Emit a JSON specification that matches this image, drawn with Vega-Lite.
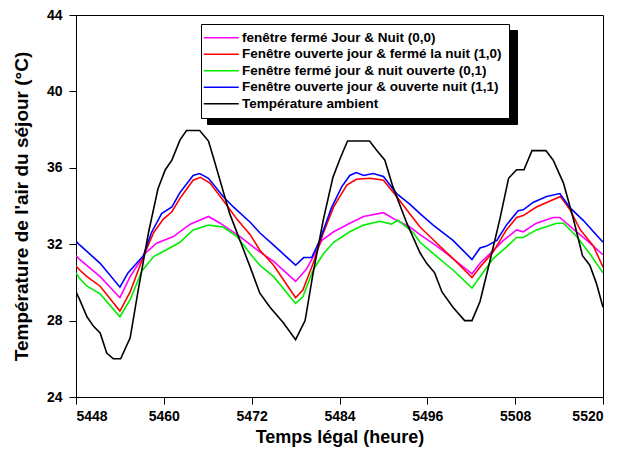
{
  "$schema": "https://vega.github.io/schema/vega-lite/v6.json",
  "width": 527,
  "height": 382,
  "autosize": {"type": "none"},
  "padding": {"left": 76, "top": 15, "right": 19, "bottom": 53},
  "background": "white",
  "config": {
    "view": {"stroke": "black", "strokeWidth": 1},
    "font": "Liberation Sans",
    "axis": {
      "grid": false,
      "domainColor": "black",
      "tickColor": "black",
      "labelColor": "black",
      "titleColor": "black",
      "labelFont": "Liberation Sans",
      "labelFontWeight": "bold",
      "labelFontSize": 14,
      "titleFont": "Liberation Sans",
      "titleFontWeight": "bold",
      "tickSize": 7,
      "tickWidth": 1,
      "domainWidth": 1
    }
  },
  "datasets": {
    "curves": [
      {"serie": "fenêtre fermé Jour & Nuit (0,0)", "t": 5448, "v": 31.4},
      {"serie": "fenêtre fermé Jour & Nuit (0,0)", "t": 5448.5, "v": 31.2},
      {"serie": "fenêtre fermé Jour & Nuit (0,0)", "t": 5451.3, "v": 30.3},
      {"serie": "fenêtre fermé Jour & Nuit (0,0)", "t": 5454.0, "v": 29.2},
      {"serie": "fenêtre fermé Jour & Nuit (0,0)", "t": 5455.4, "v": 30.3},
      {"serie": "fenêtre fermé Jour & Nuit (0,0)", "t": 5457.4, "v": 31.5},
      {"serie": "fenêtre fermé Jour & Nuit (0,0)", "t": 5459.0, "v": 32.05},
      {"serie": "fenêtre fermé Jour & Nuit (0,0)", "t": 5461.3, "v": 32.4},
      {"serie": "fenêtre fermé Jour & Nuit (0,0)", "t": 5463.6, "v": 33.05},
      {"serie": "fenêtre fermé Jour & Nuit (0,0)", "t": 5466.1, "v": 33.45},
      {"serie": "fenêtre fermé Jour & Nuit (0,0)", "t": 5467.7, "v": 33.1},
      {"serie": "fenêtre fermé Jour & Nuit (0,0)", "t": 5470.4, "v": 32.4},
      {"serie": "fenêtre fermé Jour & Nuit (0,0)", "t": 5473.1, "v": 31.6},
      {"serie": "fenêtre fermé Jour & Nuit (0,0)", "t": 5475.0, "v": 31.1},
      {"serie": "fenêtre fermé Jour & Nuit (0,0)", "t": 5478.0, "v": 30.05},
      {"serie": "fenêtre fermé Jour & Nuit (0,0)", "t": 5479.5, "v": 30.7},
      {"serie": "fenêtre fermé Jour & Nuit (0,0)", "t": 5481.6, "v": 32.2},
      {"serie": "fenêtre fermé Jour & Nuit (0,0)", "t": 5483.2, "v": 32.65},
      {"serie": "fenêtre fermé Jour & Nuit (0,0)", "t": 5485.4, "v": 33.1},
      {"serie": "fenêtre fermé Jour & Nuit (0,0)", "t": 5487.3, "v": 33.45},
      {"serie": "fenêtre fermé Jour & Nuit (0,0)", "t": 5490.0, "v": 33.65},
      {"serie": "fenêtre fermé Jour & Nuit (0,0)", "t": 5491.8, "v": 33.25},
      {"serie": "fenêtre fermé Jour & Nuit (0,0)", "t": 5493.6, "v": 32.9},
      {"serie": "fenêtre fermé Jour & Nuit (0,0)", "t": 5495.0, "v": 32.5},
      {"serie": "fenêtre fermé Jour & Nuit (0,0)", "t": 5497.3, "v": 31.9},
      {"serie": "fenêtre fermé Jour & Nuit (0,0)", "t": 5499.5, "v": 31.25},
      {"serie": "fenêtre fermé Jour & Nuit (0,0)", "t": 5502.1, "v": 30.45},
      {"serie": "fenêtre fermé Jour & Nuit (0,0)", "t": 5503.2, "v": 31.0},
      {"serie": "fenêtre fermé Jour & Nuit (0,0)", "t": 5504.8, "v": 31.6},
      {"serie": "fenêtre fermé Jour & Nuit (0,0)", "t": 5506.4, "v": 32.2},
      {"serie": "fenêtre fermé Jour & Nuit (0,0)", "t": 5508.2, "v": 32.75},
      {"serie": "fenêtre fermé Jour & Nuit (0,0)", "t": 5509.1, "v": 32.65},
      {"serie": "fenêtre fermé Jour & Nuit (0,0)", "t": 5510.9, "v": 33.1},
      {"serie": "fenêtre fermé Jour & Nuit (0,0)", "t": 5513.2, "v": 33.4},
      {"serie": "fenêtre fermé Jour & Nuit (0,0)", "t": 5514.1, "v": 33.4},
      {"serie": "fenêtre fermé Jour & Nuit (0,0)", "t": 5515.9, "v": 32.8},
      {"serie": "fenêtre fermé Jour & Nuit (0,0)", "t": 5517.8, "v": 32.2},
      {"serie": "fenêtre fermé Jour & Nuit (0,0)", "t": 5520, "v": 31.45},

      {"serie": "Fenêtre ouverte jour & fermé la nuit (1,0)", "t": 5448, "v": 30.85},
      {"serie": "Fenêtre ouverte jour & fermé la nuit (1,0)", "t": 5448.5, "v": 30.65},
      {"serie": "Fenêtre ouverte jour & fermé la nuit (1,0)", "t": 5449.5, "v": 30.3},
      {"serie": "Fenêtre ouverte jour & fermé la nuit (1,0)", "t": 5451.3, "v": 29.8},
      {"serie": "Fenêtre ouverte jour & fermé la nuit (1,0)", "t": 5454.0, "v": 28.5},
      {"serie": "Fenêtre ouverte jour & fermé la nuit (1,0)", "t": 5455.4, "v": 29.5},
      {"serie": "Fenêtre ouverte jour & fermé la nuit (1,0)", "t": 5457.2, "v": 31.35},
      {"serie": "Fenêtre ouverte jour & fermé la nuit (1,0)", "t": 5458.6, "v": 32.6},
      {"serie": "Fenêtre ouverte jour & fermé la nuit (1,0)", "t": 5459.9, "v": 33.3},
      {"serie": "Fenêtre ouverte jour & fermé la nuit (1,0)", "t": 5461.1, "v": 33.7},
      {"serie": "Fenêtre ouverte jour & fermé la nuit (1,0)", "t": 5462.2, "v": 34.4},
      {"serie": "Fenêtre ouverte jour & fermé la nuit (1,0)", "t": 5464.0, "v": 35.35},
      {"serie": "Fenêtre ouverte jour & fermé la nuit (1,0)", "t": 5465.0, "v": 35.5},
      {"serie": "Fenêtre ouverte jour & fermé la nuit (1,0)", "t": 5466.3, "v": 35.2},
      {"serie": "Fenêtre ouverte jour & fermé la nuit (1,0)", "t": 5468.1, "v": 34.3},
      {"serie": "Fenêtre ouverte jour & fermé la nuit (1,0)", "t": 5470.0, "v": 33.3},
      {"serie": "Fenêtre ouverte jour & fermé la nuit (1,0)", "t": 5471.8, "v": 32.5},
      {"serie": "Fenêtre ouverte jour & fermé la nuit (1,0)", "t": 5473.1, "v": 31.7},
      {"serie": "Fenêtre ouverte jour & fermé la nuit (1,0)", "t": 5475.0, "v": 30.9},
      {"serie": "Fenêtre ouverte jour & fermé la nuit (1,0)", "t": 5478.0, "v": 29.2},
      {"serie": "Fenêtre ouverte jour & fermé la nuit (1,0)", "t": 5479.0, "v": 29.6},
      {"serie": "Fenêtre ouverte jour & fermé la nuit (1,0)", "t": 5480.4, "v": 31.0},
      {"serie": "Fenêtre ouverte jour & fermé la nuit (1,0)", "t": 5481.8, "v": 32.6},
      {"serie": "Fenêtre ouverte jour & fermé la nuit (1,0)", "t": 5483.2, "v": 33.95},
      {"serie": "Fenêtre ouverte jour & fermé la nuit (1,0)", "t": 5485.0, "v": 35.1},
      {"serie": "Fenêtre ouverte jour & fermé la nuit (1,0)", "t": 5486.3, "v": 35.4},
      {"serie": "Fenêtre ouverte jour & fermé la nuit (1,0)", "t": 5488.2, "v": 35.45},
      {"serie": "Fenêtre ouverte jour & fermé la nuit (1,0)", "t": 5490.0, "v": 35.35},
      {"serie": "Fenêtre ouverte jour & fermé la nuit (1,0)", "t": 5491.8, "v": 34.5},
      {"serie": "Fenêtre ouverte jour & fermé la nuit (1,0)", "t": 5493.6, "v": 33.6},
      {"serie": "Fenêtre ouverte jour & fermé la nuit (1,0)", "t": 5495.0, "v": 32.9},
      {"serie": "Fenêtre ouverte jour & fermé la nuit (1,0)", "t": 5497.3, "v": 32.05},
      {"serie": "Fenêtre ouverte jour & fermé la nuit (1,0)", "t": 5499.5, "v": 31.25},
      {"serie": "Fenêtre ouverte jour & fermé la nuit (1,0)", "t": 5502.1, "v": 30.25},
      {"serie": "Fenêtre ouverte jour & fermé la nuit (1,0)", "t": 5503.2, "v": 30.8},
      {"serie": "Fenêtre ouverte jour & fermé la nuit (1,0)", "t": 5505.0, "v": 31.6},
      {"serie": "Fenêtre ouverte jour & fermé la nuit (1,0)", "t": 5506.8, "v": 32.75},
      {"serie": "Fenêtre ouverte jour & fermé la nuit (1,0)", "t": 5508.2, "v": 33.4},
      {"serie": "Fenêtre ouverte jour & fermé la nuit (1,0)", "t": 5509.1, "v": 33.5},
      {"serie": "Fenêtre ouverte jour & fermé la nuit (1,0)", "t": 5510.9, "v": 33.95},
      {"serie": "Fenêtre ouverte jour & fermé la nuit (1,0)", "t": 5513.0, "v": 34.3},
      {"serie": "Fenêtre ouverte jour & fermé la nuit (1,0)", "t": 5514.2, "v": 34.5},
      {"serie": "Fenêtre ouverte jour & fermé la nuit (1,0)", "t": 5515.5, "v": 33.8},
      {"serie": "Fenêtre ouverte jour & fermé la nuit (1,0)", "t": 5516.9, "v": 32.75},
      {"serie": "Fenêtre ouverte jour & fermé la nuit (1,0)", "t": 5518.7, "v": 31.9},
      {"serie": "Fenêtre ouverte jour & fermé la nuit (1,0)", "t": 5520, "v": 30.8},

      {"serie": "Fenêtre fermé jour & nuit ouverte (0,1)", "t": 5448, "v": 30.5},
      {"serie": "Fenêtre fermé jour & nuit ouverte (0,1)", "t": 5448.5, "v": 30.2},
      {"serie": "Fenêtre fermé jour & nuit ouverte (0,1)", "t": 5449.5, "v": 29.8},
      {"serie": "Fenêtre fermé jour & nuit ouverte (0,1)", "t": 5451.3, "v": 29.4},
      {"serie": "Fenêtre fermé jour & nuit ouverte (0,1)", "t": 5454.0, "v": 28.2},
      {"serie": "Fenêtre fermé jour & nuit ouverte (0,1)", "t": 5455.4, "v": 29.1},
      {"serie": "Fenêtre fermé jour & nuit ouverte (0,1)", "t": 5457.0, "v": 30.6},
      {"serie": "Fenêtre fermé jour & nuit ouverte (0,1)", "t": 5458.6, "v": 31.35},
      {"serie": "Fenêtre fermé jour & nuit ouverte (0,1)", "t": 5460.8, "v": 31.8},
      {"serie": "Fenêtre fermé jour & nuit ouverte (0,1)", "t": 5462.2, "v": 32.1},
      {"serie": "Fenêtre fermé jour & nuit ouverte (0,1)", "t": 5464.0, "v": 32.75},
      {"serie": "Fenêtre fermé jour & nuit ouverte (0,1)", "t": 5466.1, "v": 33.0},
      {"serie": "Fenêtre fermé jour & nuit ouverte (0,1)", "t": 5468.1, "v": 32.9},
      {"serie": "Fenêtre fermé jour & nuit ouverte (0,1)", "t": 5470.0, "v": 32.4},
      {"serie": "Fenêtre fermé jour & nuit ouverte (0,1)", "t": 5471.8, "v": 31.5},
      {"serie": "Fenêtre fermé jour & nuit ouverte (0,1)", "t": 5473.1, "v": 30.9},
      {"serie": "Fenêtre fermé jour & nuit ouverte (0,1)", "t": 5475.0, "v": 30.3},
      {"serie": "Fenêtre fermé jour & nuit ouverte (0,1)", "t": 5478.0, "v": 28.9},
      {"serie": "Fenêtre fermé jour & nuit ouverte (0,1)", "t": 5479.0, "v": 29.25},
      {"serie": "Fenêtre fermé jour & nuit ouverte (0,1)", "t": 5480.4, "v": 30.65},
      {"serie": "Fenêtre fermé jour & nuit ouverte (0,1)", "t": 5481.8, "v": 31.5},
      {"serie": "Fenêtre fermé jour & nuit ouverte (0,1)", "t": 5483.2, "v": 32.1},
      {"serie": "Fenêtre fermé jour & nuit ouverte (0,1)", "t": 5485.4, "v": 32.65},
      {"serie": "Fenêtre fermé jour & nuit ouverte (0,1)", "t": 5487.3, "v": 33.0},
      {"serie": "Fenêtre fermé jour & nuit ouverte (0,1)", "t": 5489.5, "v": 33.2},
      {"serie": "Fenêtre fermé jour & nuit ouverte (0,1)", "t": 5491.1, "v": 33.05},
      {"serie": "Fenêtre fermé jour & nuit ouverte (0,1)", "t": 5492.0, "v": 33.25},
      {"serie": "Fenêtre fermé jour & nuit ouverte (0,1)", "t": 5494.1, "v": 32.6},
      {"serie": "Fenêtre fermé jour & nuit ouverte (0,1)", "t": 5495.0, "v": 32.1},
      {"serie": "Fenêtre fermé jour & nuit ouverte (0,1)", "t": 5497.3, "v": 31.35},
      {"serie": "Fenêtre fermé jour & nuit ouverte (0,1)", "t": 5499.5, "v": 30.65},
      {"serie": "Fenêtre fermé jour & nuit ouverte (0,1)", "t": 5502.1, "v": 29.7},
      {"serie": "Fenêtre fermé jour & nuit ouverte (0,1)", "t": 5503.2, "v": 30.3},
      {"serie": "Fenêtre fermé jour & nuit ouverte (0,1)", "t": 5505.0, "v": 31.25},
      {"serie": "Fenêtre fermé jour & nuit ouverte (0,1)", "t": 5506.8, "v": 31.85},
      {"serie": "Fenêtre fermé jour & nuit ouverte (0,1)", "t": 5508.2, "v": 32.35},
      {"serie": "Fenêtre fermé jour & nuit ouverte (0,1)", "t": 5509.1, "v": 32.35},
      {"serie": "Fenêtre fermé jour & nuit ouverte (0,1)", "t": 5510.9, "v": 32.75},
      {"serie": "Fenêtre fermé jour & nuit ouverte (0,1)", "t": 5513.7, "v": 33.1},
      {"serie": "Fenêtre fermé jour & nuit ouverte (0,1)", "t": 5514.6, "v": 33.1},
      {"serie": "Fenêtre fermé jour & nuit ouverte (0,1)", "t": 5516.4, "v": 32.4},
      {"serie": "Fenêtre fermé jour & nuit ouverte (0,1)", "t": 5518.2, "v": 31.5},
      {"serie": "Fenêtre fermé jour & nuit ouverte (0,1)", "t": 5520, "v": 30.5},

      {"serie": "Fenêtre ouverte jour & ouverte nuit (1,1)", "t": 5448, "v": 32.15},
      {"serie": "Fenêtre ouverte jour & ouverte nuit (1,1)", "t": 5448.5, "v": 31.96},
      {"serie": "Fenêtre ouverte jour & ouverte nuit (1,1)", "t": 5451.3, "v": 31.0},
      {"serie": "Fenêtre ouverte jour & ouverte nuit (1,1)", "t": 5454.0, "v": 29.75},
      {"serie": "Fenêtre ouverte jour & ouverte nuit (1,1)", "t": 5455.1, "v": 30.5},
      {"serie": "Fenêtre ouverte jour & ouverte nuit (1,1)", "t": 5457.2, "v": 31.4},
      {"serie": "Fenêtre ouverte jour & ouverte nuit (1,1)", "t": 5458.3, "v": 32.6},
      {"serie": "Fenêtre ouverte jour & ouverte nuit (1,1)", "t": 5459.7, "v": 33.6},
      {"serie": "Fenêtre ouverte jour & ouverte nuit (1,1)", "t": 5461.1, "v": 33.95},
      {"serie": "Fenêtre ouverte jour & ouverte nuit (1,1)", "t": 5462.2, "v": 34.7},
      {"serie": "Fenêtre ouverte jour & ouverte nuit (1,1)", "t": 5464.0, "v": 35.6},
      {"serie": "Fenêtre ouverte jour & ouverte nuit (1,1)", "t": 5464.9, "v": 35.7},
      {"serie": "Fenêtre ouverte jour & ouverte nuit (1,1)", "t": 5466.1, "v": 35.45},
      {"serie": "Fenêtre ouverte jour & ouverte nuit (1,1)", "t": 5468.1, "v": 34.5},
      {"serie": "Fenêtre ouverte jour & ouverte nuit (1,1)", "t": 5469.5, "v": 33.95},
      {"serie": "Fenêtre ouverte jour & ouverte nuit (1,1)", "t": 5471.8, "v": 33.15},
      {"serie": "Fenêtre ouverte jour & ouverte nuit (1,1)", "t": 5473.1, "v": 32.6},
      {"serie": "Fenêtre ouverte jour & ouverte nuit (1,1)", "t": 5475.0, "v": 31.95},
      {"serie": "Fenêtre ouverte jour & ouverte nuit (1,1)", "t": 5478.0, "v": 30.9},
      {"serie": "Fenêtre ouverte jour & ouverte nuit (1,1)", "t": 5479.1, "v": 31.3},
      {"serie": "Fenêtre ouverte jour & ouverte nuit (1,1)", "t": 5480.2, "v": 31.3},
      {"serie": "Fenêtre ouverte jour & ouverte nuit (1,1)", "t": 5481.3, "v": 32.2},
      {"serie": "Fenêtre ouverte jour & ouverte nuit (1,1)", "t": 5482.9, "v": 33.9},
      {"serie": "Fenêtre ouverte jour & ouverte nuit (1,1)", "t": 5484.3, "v": 35.0},
      {"serie": "Fenêtre ouverte jour & ouverte nuit (1,1)", "t": 5485.4, "v": 35.6},
      {"serie": "Fenêtre ouverte jour & ouverte nuit (1,1)", "t": 5486.3, "v": 35.75},
      {"serie": "Fenêtre ouverte jour & ouverte nuit (1,1)", "t": 5487.3, "v": 35.6},
      {"serie": "Fenêtre ouverte jour & ouverte nuit (1,1)", "t": 5488.6, "v": 35.7},
      {"serie": "Fenêtre ouverte jour & ouverte nuit (1,1)", "t": 5490.0, "v": 35.55},
      {"serie": "Fenêtre ouverte jour & ouverte nuit (1,1)", "t": 5491.8, "v": 34.65},
      {"serie": "Fenêtre ouverte jour & ouverte nuit (1,1)", "t": 5493.6, "v": 34.1},
      {"serie": "Fenêtre ouverte jour & ouverte nuit (1,1)", "t": 5495.0, "v": 33.6},
      {"serie": "Fenêtre ouverte jour & ouverte nuit (1,1)", "t": 5496.8, "v": 33.0},
      {"serie": "Fenêtre ouverte jour & ouverte nuit (1,1)", "t": 5499.5, "v": 32.2},
      {"serie": "Fenêtre ouverte jour & ouverte nuit (1,1)", "t": 5502.1, "v": 31.2},
      {"serie": "Fenêtre ouverte jour & ouverte nuit (1,1)", "t": 5503.2, "v": 31.8},
      {"serie": "Fenêtre ouverte jour & ouverte nuit (1,1)", "t": 5504.1, "v": 31.9},
      {"serie": "Fenêtre ouverte jour & ouverte nuit (1,1)", "t": 5505.5, "v": 32.2},
      {"serie": "Fenêtre ouverte jour & ouverte nuit (1,1)", "t": 5506.8, "v": 33.0},
      {"serie": "Fenêtre ouverte jour & ouverte nuit (1,1)", "t": 5508.4, "v": 33.75},
      {"serie": "Fenêtre ouverte jour & ouverte nuit (1,1)", "t": 5509.1, "v": 33.8},
      {"serie": "Fenêtre ouverte jour & ouverte nuit (1,1)", "t": 5510.5, "v": 34.2},
      {"serie": "Fenêtre ouverte jour & ouverte nuit (1,1)", "t": 5512.3, "v": 34.5},
      {"serie": "Fenêtre ouverte jour & ouverte nuit (1,1)", "t": 5514.1, "v": 34.65},
      {"serie": "Fenêtre ouverte jour & ouverte nuit (1,1)", "t": 5515.5, "v": 33.9},
      {"serie": "Fenêtre ouverte jour & ouverte nuit (1,1)", "t": 5517.3, "v": 33.25},
      {"serie": "Fenêtre ouverte jour & ouverte nuit (1,1)", "t": 5518.7, "v": 32.65},
      {"serie": "Fenêtre ouverte jour & ouverte nuit (1,1)", "t": 5520, "v": 32.1},

      {"serie": "Température ambient", "t": 5448, "v": 29.5},
      {"serie": "Température ambient", "t": 5448.5, "v": 29.1},
      {"serie": "Température ambient", "t": 5449.5, "v": 28.2},
      {"serie": "Température ambient", "t": 5450.4, "v": 27.7},
      {"serie": "Température ambient", "t": 5451.3, "v": 27.35},
      {"serie": "Température ambient", "t": 5452.2, "v": 26.3},
      {"serie": "Température ambient", "t": 5453.1, "v": 26.0},
      {"serie": "Température ambient", "t": 5454.1, "v": 26.0},
      {"serie": "Température ambient", "t": 5455.4, "v": 27.1},
      {"serie": "Température ambient", "t": 5456.5, "v": 29.6},
      {"serie": "Température ambient", "t": 5457.9, "v": 32.6},
      {"serie": "Température ambient", "t": 5459.2, "v": 34.9},
      {"serie": "Température ambient", "t": 5460.2, "v": 35.9},
      {"serie": "Température ambient", "t": 5461.1, "v": 36.4},
      {"serie": "Température ambient", "t": 5462.2, "v": 37.45},
      {"serie": "Température ambient", "t": 5463.1, "v": 37.95},
      {"serie": "Température ambient", "t": 5464.9, "v": 37.95},
      {"serie": "Température ambient", "t": 5466.1, "v": 37.4},
      {"serie": "Température ambient", "t": 5466.8, "v": 36.5},
      {"serie": "Température ambient", "t": 5469.0, "v": 33.6},
      {"serie": "Température ambient", "t": 5471.8, "v": 30.8},
      {"serie": "Température ambient", "t": 5473.1, "v": 29.45},
      {"serie": "Température ambient", "t": 5474.5, "v": 28.7},
      {"serie": "Température ambient", "t": 5476.3, "v": 27.9},
      {"serie": "Température ambient", "t": 5478.0, "v": 27.0},
      {"serie": "Température ambient", "t": 5479.3, "v": 28.0},
      {"serie": "Température ambient", "t": 5480.4, "v": 30.5},
      {"serie": "Température ambient", "t": 5481.8, "v": 33.3},
      {"serie": "Température ambient", "t": 5483.1, "v": 35.5},
      {"serie": "Température ambient", "t": 5484.1, "v": 36.5},
      {"serie": "Température ambient", "t": 5485.1, "v": 37.4},
      {"serie": "Température ambient", "t": 5488.1, "v": 37.4},
      {"serie": "Température ambient", "t": 5489.1, "v": 36.9},
      {"serie": "Température ambient", "t": 5490.2, "v": 36.4},
      {"serie": "Température ambient", "t": 5491.3, "v": 35.0},
      {"serie": "Température ambient", "t": 5493.2, "v": 33.1},
      {"serie": "Température ambient", "t": 5495.0, "v": 31.55},
      {"serie": "Température ambient", "t": 5495.9, "v": 31.0},
      {"serie": "Température ambient", "t": 5497.0, "v": 30.5},
      {"serie": "Température ambient", "t": 5498.0, "v": 29.5},
      {"serie": "Température ambient", "t": 5499.5, "v": 28.7},
      {"serie": "Température ambient", "t": 5501.1, "v": 28.0},
      {"serie": "Température ambient", "t": 5502.1, "v": 28.0},
      {"serie": "Température ambient", "t": 5503.2, "v": 29.0},
      {"serie": "Température ambient", "t": 5504.6, "v": 31.2},
      {"serie": "Température ambient", "t": 5505.9, "v": 33.3},
      {"serie": "Température ambient", "t": 5507.1, "v": 35.45},
      {"serie": "Température ambient", "t": 5508.2, "v": 35.9},
      {"serie": "Température ambient", "t": 5509.2, "v": 35.9},
      {"serie": "Température ambient", "t": 5510.3, "v": 36.9},
      {"serie": "Température ambient", "t": 5512.2, "v": 36.9},
      {"serie": "Température ambient", "t": 5513.2, "v": 36.4},
      {"serie": "Température ambient", "t": 5514.6, "v": 35.2},
      {"serie": "Température ambient", "t": 5515.9, "v": 33.4},
      {"serie": "Température ambient", "t": 5517.2, "v": 31.4},
      {"serie": "Température ambient", "t": 5518.2, "v": 30.9},
      {"serie": "Température ambient", "t": 5519.1, "v": 29.95},
      {"serie": "Température ambient", "t": 5520, "v": 28.7}
    ],
    "keys": [
      {"k": "s1"},
      {"k": "s2"},
      {"k": "s3"},
      {"k": "s4"},
      {"k": "s5"}
    ]
  },
  "layer": [
    {
      "data": {"name": "curves"},
      "mark": {"type": "line", "strokeWidth": 1.6, "clip": true},
      "encoding": {
        "x": {
          "field": "t", "type": "quantitative",
          "scale": {"domain": [5448, 5520], "nice": false, "zero": false},
          "axis": {
            "values": [5448, 5460, 5472, 5484, 5496, 5508, 5520],
            "format": "d",
            "labelPadding": 5,
            "title": "Temps légal  (heure)",
            "titleFontSize": 18,
            "titlePadding": 5
          }
        },
        "y": {
          "field": "v", "type": "quantitative",
          "scale": {"domain": [24, 44], "nice": false, "zero": false},
          "axis": {
            "values": [24, 28, 32, 36, 40, 44],
            "labelPadding": 7,
            "title": "Température de l'air du séjour (°C)",
            "titleFontSize": 19,
            "titlePadding": 15
          }
        },
        "color": {
          "field": "serie", "type": "nominal",
          "scale": {
            "domain": [
              "fenêtre fermé Jour & Nuit (0,0)",
              "Fenêtre ouverte jour & fermé la nuit (1,0)",
              "Fenêtre fermé jour & nuit ouverte (0,1)",
              "Fenêtre ouverte jour & ouverte nuit (1,1)",
              "Température ambient"
            ],
            "range": ["#ff00ff", "#ff0000", "#00ee00", "#0000ff", "#000000"]
          },
          "legend": {
            "title": null,
            "orient": "none",
            "legendX": 125,
            "legendY": 9,
            "zindex": 2,
            "padding": 7,
            "fillColor": "white",
            "strokeColor": "black",
            "symbolType": "M-3.5,0H3.5",
            "symbolSize": 100,
            "symbolStrokeWidth": 1.6,
            "symbolOffset": 6.5,
            "labelOffset": 14,
            "labelFont": "Liberation Sans",
            "labelFontWeight": "bold",
            "labelFontSize": 13.5,
            "labelColor": "black",
            "labelLimit": 400,
            "rowPadding": 1.5
          }
        }
      }
    },
    {
      "data": {"name": "keys"},
      "mark": {"type": "point", "opacity": 0},
      "encoding": {
        "shape": {
          "field": "k", "type": "nominal",
          "scale": {
            "domain": ["s1", "s2", "s3", "s4", "s5"],
            "range": ["M-3.5,0H56", "M-3.5,0H56", "M-3.5,0H56", "M-3.5,0H56", "M-3.5,0H56"]
          },
          "legend": {
            "title": null,
            "orient": "none",
            "legendX": 131,
            "legendY": 15,
            "zindex": 1,
            "padding": 7,
            "fillColor": "black",
            "strokeColor": "black",
            "symbolSize": 100,
            "symbolStrokeWidth": 1,
            "symbolStrokeColor": "black",
            "symbolOffset": 6.5,
            "labelOffset": 14,
            "labelExpr": "''",
            "labelFont": "Liberation Sans",
            "labelFontSize": 13.5,
            "labelColor": "black",
            "rowPadding": 1.5
          }
        }
      }
    }
  ]
}
